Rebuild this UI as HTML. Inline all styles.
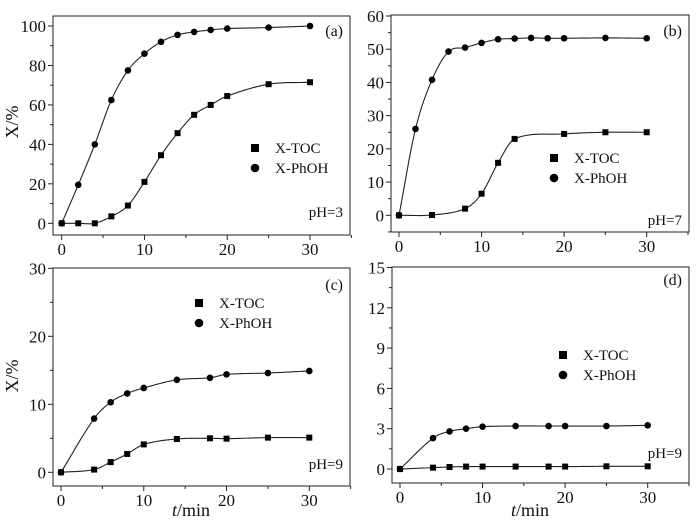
<!DOCTYPE html>
<html><head><meta charset="utf-8"><style>
body{margin:0;background:#fff}
svg{display:block;font-family:"Liberation Serif",serif}
</style></head><body>
<svg id="c" width="700" height="526" xmlns="http://www.w3.org/2000/svg"></svg>
<script>
// Panel (a) pH=3
const tA = [0,2,4,6,8,10,12,14,16,18,20,25,30];
const phohA = [0,19.5,40,62.5,77.5,86,92,95.5,97,98,98.7,99.2,100];
const tocA = [0,0,0,3.5,9,21,34.5,45.7,55,60,64.5,70.5,71.5];
// Panel (b) pH=7
const tBp = [0,2,4,6,8,10,12,14,16,18,20,25,30];
const phohB = [0,26,40.8,49.3,50.5,51.9,53,53.2,53.4,53.3,53.3,53.4,53.3];
const tBt = [0,4,8,10,12,14,20,25,30];
const tocB = [0,0.1,2,6.5,15.8,23,24.5,25,25];
// Panel (c) pH=9
const tC = [0,4,6,8,10,14,18,20,25,30];
const phohC = [0,7.9,10.3,11.6,12.4,13.6,13.9,14.4,14.6,14.9];
const tocC = [0,0.4,1.5,2.7,4.1,4.9,5.0,4.95,5.1,5.1];
// Panel (d) pH=9
const tD = [0,4,6,8,10,14,18,20,25,30];
const phohD = [0,2.3,2.8,3.0,3.15,3.2,3.2,3.2,3.2,3.25];
const tocD = [0,0.1,0.15,0.18,0.18,0.18,0.18,0.18,0.2,0.2];
// ticks
const xTicks = [0,10,20,30];
const yTicksA = [0,20,40,60,80,100];
const yTicksB = [0,10,20,30,40,50,60];
const yTicksC = [0,10,20,30];
const yTicksD = [0,3,6,9,12,15];

const NS="http://www.w3.org/2000/svg";
const svg=document.getElementById('c');
function mk(tag,attrs,parent){const e=document.createElementNS(NS,tag);for(const k in attrs)e.setAttribute(k,attrs[k]);(parent||svg).appendChild(e);return e;}

function tangents(xs,ys){
  const n=xs.length,m=[];
  m[0]=(ys[1]-ys[0])/(xs[1]-xs[0]);
  m[n-1]=(ys[n-1]-ys[n-2])/(xs[n-1]-xs[n-2]);
  for(let i=1;i<n-1;i++)m[i]=(ys[i+1]-ys[i-1])/(xs[i+1]-xs[i-1]);
  return m;
}

function panel(p){
  const g=mk('g',{});
  
  
  const X=v=>p.x0+(v-0)*(p.x30-p.x0)/30;
  const Y=v=>p.yz+(v-p.ylo0)*(p.ytop-p.yz)/(p.yhi0-p.ylo0);
  const fr=mk('rect',{x:p.L,y:p.T,width:p.R-p.L,height:p.B-p.T,fill:'none',stroke:'#222','stroke-width':1},g);
  
  
  for(let v=0;v<=35;v+=5){const x=X(v);const maj=v%10===0;
    mk('line',{x1:x,y1:p.B,x2:x,y2:p.B+(maj?5:3),stroke:'#222'},g);}
  xTicks.forEach(v=>{const t=mk('text',{x:X(v),y:p.B+20,'text-anchor':'middle','font-size':17,fill:'#111'},g);t.textContent=v;
    
    });
  const yt=p.yticks,step=yt[1]-yt[0];
  for(let v=yt[0]-step/2;v<=yt[yt.length-1]+0.001;v+=step/2){const y=Y(v);if(y>p.B+0.5||y<p.T-0.5)continue;const maj=Math.abs((v/step)-Math.round(v/step))<1e-6;
    mk('line',{x1:p.L,y1:y,x2:p.L-(maj?5:3),y2:y,stroke:'#222'},g);}
  yt.forEach(v=>{const t=mk('text',{x:p.L-7,y:Y(v)+6,'text-anchor':'end','font-size':17,fill:'#111'},g);t.textContent=v;
    
    });
  p.series.forEach(s=>{
    const m=tangents(s.t,s.v);let d='';
    for(let i=0;i<s.t.length-1;i++){const h=s.t[i+1]-s.t[i];
      for(let k=0;k<=12;k++){const u=k/12,h00=2*u*u*u-3*u*u+1,h10=u*u*u-2*u*u+u,h01=-2*u*u*u+3*u*u,h11=u*u*u-u*u;
        const val=h00*s.v[i]+h10*h*m[i]+h01*s.v[i+1]+h11*h*m[i+1];
        d+=(d?'L':'M')+X(s.t[i]+u*h).toFixed(2)+','+Y(val).toFixed(2);}}
    const pl=mk('path',{d:d,fill:'none',stroke:'#222','stroke-width':1.1},g);
    
    
    s.t.forEach((tv,i)=>{let e;
      if(s.shape==='sq')e=mk('rect',{x:X(tv)-3,y:Y(s.v[i])-3,width:6,height:6,fill:'#000'},g);
      else e=mk('circle',{cx:X(tv),cy:Y(s.v[i]),r:3.3,fill:'#000'},g);
      
      });
  });
  const lg=mk('g',{},g);
  
  
  mk('rect',{x:p.lx-4,y:p.ly-4,width:8,height:8,fill:'#000'},lg);
  let t=mk('text',{x:p.lx+20,y:p.ly+5,'font-size':15,fill:'#111'},lg);t.textContent='X-TOC';
  mk('circle',{cx:p.lx,cy:p.ly+20,r:4.3,fill:'#000'},lg);
  t=mk('text',{x:p.lx+20,y:p.ly+25,'font-size':15,fill:'#111'},lg);t.textContent='X-PhOH';
  t=mk('text',{x:p.R-7,y:p.labY,'text-anchor':'end','font-size':16,fill:'#111'},g);t.textContent='('+p.id+')';
  
  
  t=mk('text',{x:p.R-7,y:p.phY,'text-anchor':'end','font-size':15,fill:'#111'},g);t.textContent=p.ph;
  
  
}

panel({id:'a',L:53,R:350,T:16,B:235,x0:61.7,x30:310,yz:223.3,ylo0:0,ytop:26,yhi0:100,yticks:yTicksA,
  series:[{name:'x-toc',shape:'sq',t:tA,v:tocA},{name:'x-phoh',shape:'ci',t:tA,v:phohA}],
  lx:255,ly:148,labY:36,phY:217,ph:'pH=3'});
panel({id:'b',L:391,R:689,T:15,B:232,x0:399,x30:646.7,yz:215.3,ylo0:0,ytop:16,yhi0:60,yticks:yTicksB,
  series:[{name:'x-toc',shape:'sq',t:tBt,v:tocB},{name:'x-phoh',shape:'ci',t:tBp,v:phohB}],
  lx:554,ly:158,labY:36,phY:225,ph:'pH=7'});
panel({id:'c',L:53,R:350,T:268,B:486,x0:61,x30:309.3,yz:472.3,ylo0:0,ytop:268.3,yhi0:30,yticks:yTicksC,
  series:[{name:'x-toc',shape:'sq',t:tC,v:tocC},{name:'x-phoh',shape:'ci',t:tC,v:phohC}],
  lx:199,ly:303,labY:290,phY:469,ph:'pH=9'});
panel({id:'d',L:392,R:689,T:267,B:483,x0:400,x30:647.7,yz:469,ylo0:0,ytop:267.5,yhi0:15,yticks:yTicksD,
  series:[{name:'x-toc',shape:'sq',t:tD,v:tocD},{name:'x-phoh',shape:'ci',t:tD,v:phohD}],
  lx:563,ly:355,labY:285,phY:458,ph:'pH=9'});

function yTitle(x,y,id){const t=mk('text',{x:x,y:y,'text-anchor':'middle','font-size':18,fill:'#111',transform:'rotate(-90 '+x+' '+y+')'});t.textContent='X/%';
  
  }
yTitle(18,122,'a');yTitle(18,376,'c');
function xTitle(x,id){const t=mk('text',{x:x,y:516,'text-anchor':'middle','font-size':18,fill:'#111'});
  t.innerHTML='<tspan font-style="italic">t</tspan>/min';
  
  }
xTitle(191,'c');xTitle(530,'d');
</script>
</body></html>
